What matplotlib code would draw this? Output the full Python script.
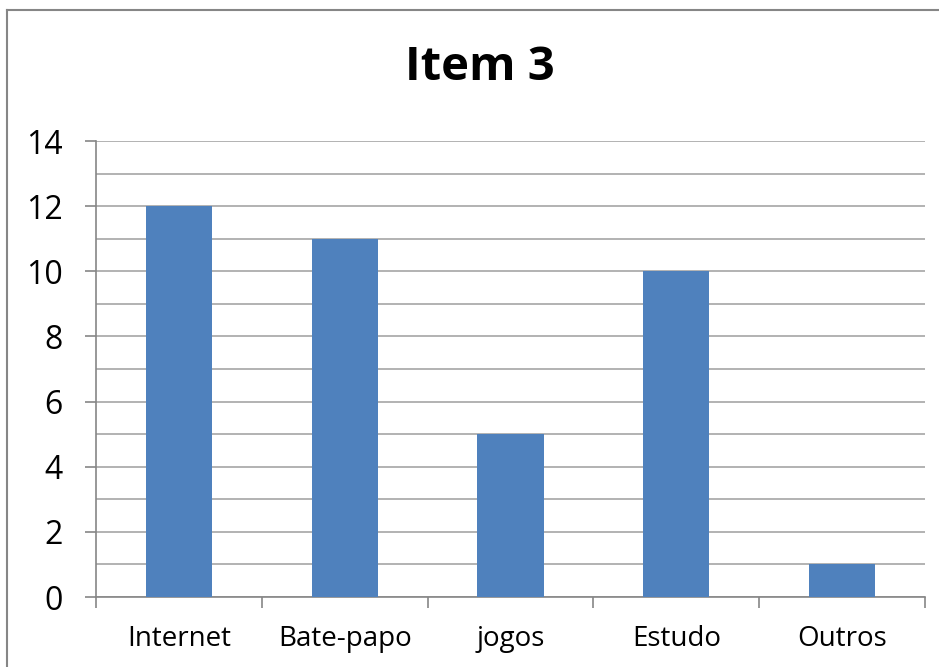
import matplotlib
matplotlib.use("Agg")
import matplotlib.pyplot as plt
from matplotlib.lines import Line2D
import numpy as np

categories = ["Internet", "Bate-papo", "jogos", "Estudo", "Outros"]
values = [12, 11, 5, 10, 1]
title = "Item 3"

plt.rcParams['font.family'] = ['Open Sans', 'DejaVu Sans']

W, H = 939, 667
fig = plt.figure(figsize=(W/100, H/100), dpi=100)
ax = fig.add_axes([96/W, 1-597/H, (925-96)/W, (597-141)/H])

x = np.arange(len(categories))
ax.bar(x, values, width=0.4, color="#4F81BD", zorder=3)
ax.set_xlim(-0.5, len(categories)-0.5)
ax.set_ylim(0, 14)
ax.set_yticks(range(0, 15, 2))
ax.set_yticks(range(1, 15, 2), minor=True)
ax.yaxis.grid(True, which='both', color="#A6A6A6", linewidth=1.2, zorder=0)
ax.set_xticks(x)
ax.set_xticklabels(categories, fontsize=20)
ax.set_xticks(np.arange(-0.5, len(categories), 1), minor=True)
ax.tick_params(axis='x', which='major', length=0, pad=20)
ax.tick_params(axis='x', which='minor', length=8, color="#868686", width=1.2)
ax.tick_params(axis='y', which='major', length=8, color="#868686", width=1.2, labelsize=23, pad=16)
ax.tick_params(axis='y', which='minor', length=0)
for s in ['top', 'right']:
    ax.spines[s].set_visible(False)
for s in ['left', 'bottom']:
    ax.spines[s].set_color("#868686")
    ax.spines[s].set_linewidth(1.2)

fig.text(480/W, 1-68/H, title, fontsize=34, fontweight='bold', ha='center', va='center')

fig.add_artist(Line2D([7/W, 1], [1-10/H, 1-10/H], color="#868686", linewidth=1.5, transform=fig.transFigure))
fig.add_artist(Line2D([7/W, 7/W], [0, 1-10/H], color="#868686", linewidth=1.5, transform=fig.transFigure))

fig.savefig("out.png", dpi=100)
